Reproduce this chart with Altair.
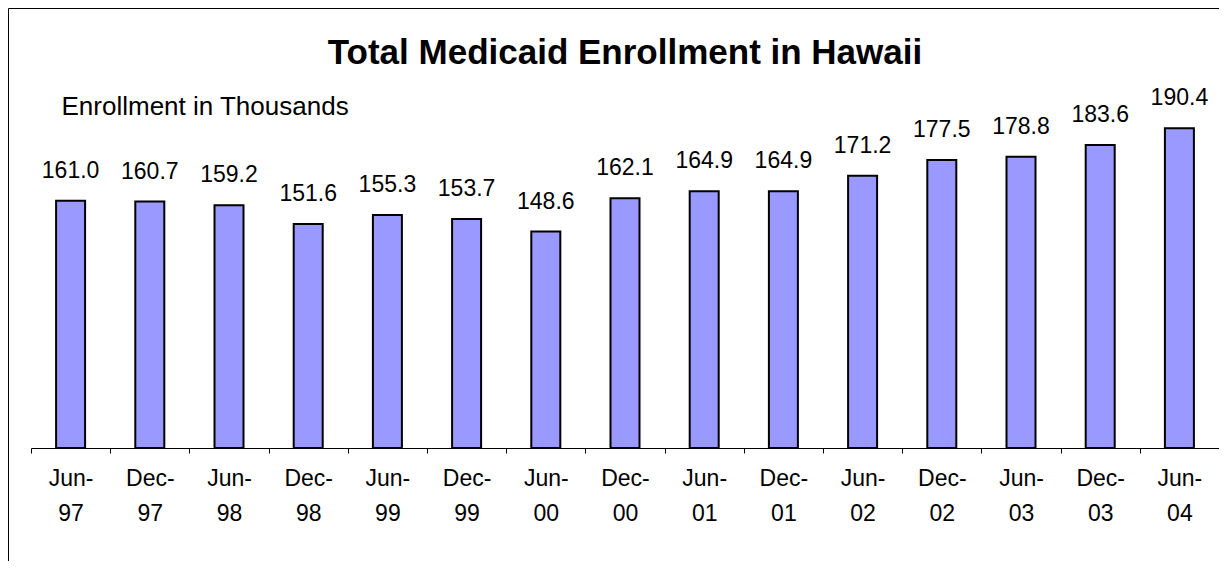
import altair as alt
import pandas as pd

periods = ["Jun-97", "Dec-97", "Jun-98", "Dec-98", "Jun-99", "Dec-99", "Jun-00", "Dec-00",
           "Jun-01", "Dec-01", "Jun-02", "Dec-02", "Jun-03", "Dec-03", "Jun-04"]
enrollment = [161.0, 160.7, 159.2, 151.6, 155.3, 153.7, 148.6, 162.1,
              164.9, 164.9, 171.2, 177.5, 178.8, 183.6, 190.4]

df = pd.DataFrame({"period": periods, "enrollment": enrollment})

FONT = "Liberation Sans"
W, H = 1188, 346
YMIN, YMAX = 61, 201

x_enc = alt.X(
    "period:N", sort=periods,
    scale=alt.Scale(paddingInner=0, paddingOuter=0),
    axis=alt.Axis(
        title=None, labelAngle=0, labelFont=FONT, labelFontSize=23, labelColor="black",
        labelExpr="[slice(datum.label, 0, 4), slice(datum.label, 4)]",
        labelLineHeight=35, labelPadding=14, tickBand="extent", tickSize=5,
        tickColor="black", tickWidth=1, domainColor="black", domainWidth=1,
        labelAlign="center", labelBaseline="top",
    ),
)
y_scale = alt.Scale(domain=[YMIN, YMAX], zero=False, nice=False)
y_axis = alt.Axis(
    title="Enrollment in Thousands", titleAngle=0, titleAlign="left",
    titleBaseline="alphabetic", titleX=30, titleY=12, titleFont=FONT,
    titleFontSize=26, titleFontWeight="normal", titleColor="black",
    labels=False, ticks=False, domain=False, grid=False,
)

bars = alt.Chart(df).mark_bar(size=29, color="#9999FF", stroke="black", strokeWidth=2).encode(
    x=x_enc,
    y=alt.Y("enrollment:Q", scale=y_scale, axis=y_axis),
    y2=alt.datum(YMIN),
)

labels = alt.Chart(df).mark_text(
    font=FONT, fontSize=23, dy=-23, baseline="alphabetic", color="black"
).encode(
    x=alt.X("period:N", sort=periods),
    y=alt.Y("enrollment:Q"),
    text=alt.Text("enrollment:Q", format=".1f"),
)

frame = alt.Chart(pd.DataFrame({"k": [0]})).mark_rect(
    fillOpacity=0, stroke="black", strokeWidth=1
).encode(
    x=alt.value(-22.5), x2=alt.value(W + 100),
    y=alt.value(-93.5), y2=alt.value(H + 300),
)

chart = alt.layer(frame, bars, labels).properties(
    width=W, height=H,
    background="white",
    title=alt.Title("Total Medicaid Enrollment in Hawaii", font=FONT, fontSize=35,
                    fontWeight="bold", color="black", anchor="middle", offset=-63),
    autosize=alt.AutoSizeParams(type="none"),
    padding={"left": 23, "top": 94, "right": 0, "bottom": 113},
).configure_view(strokeWidth=0)

chart.save("out.html", embed_options={"renderer": "svg", "actions": False})
